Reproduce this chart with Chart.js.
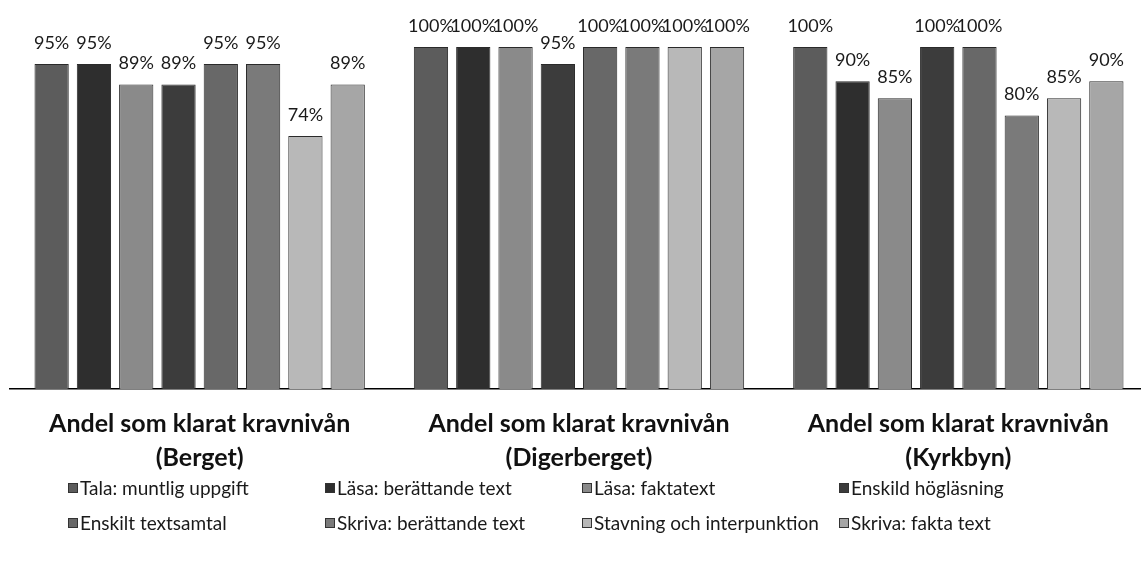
<!DOCTYPE html>
<html>
<head>
<meta charset="utf-8">
<script src="https://cdn.jsdelivr.net/npm/chart.js@4"></script>
<style>
	body { margin: 0; background: #fff; overflow: hidden; }
	#wrap { position: relative; width: 1141px; height: 563px; overflow: hidden; font-family: Lato, sans-serif; }
	#chart { position: absolute; left: 0; top: 0; }
	#legend {
		position: absolute; left: 68px; top: 476px;
		display: grid; grid-template-columns: repeat(4, 257px); row-gap: 12px;
		font-size: 19px; color: #1a1a1a;
	}
	#legend .item { display: flex; align-items: center; height: 23px; white-space: nowrap; }
	#legend .box { width: 10px; height: 10px; margin-right: 2px; border: 1px solid #333; box-sizing: border-box; }
</style>
</head>
<body>
<div id="wrap">
	<canvas id="chart" width="1148" height="499"></canvas>
	<div id="legend"></div>
</div>
<script>
// Categories (two-line axis labels)
const schools = [
	[ 'Andel som klarat kravnivån', '(Berget)' ],
	[ 'Andel som klarat kravnivån', '(Digerberget)' ],
	[ 'Andel som klarat kravnivån', '(Kyrkbyn)' ],
];

const seriesNames = [
	'Tala: muntlig uppgift',
	'Läsa: berättande text',
	'Läsa: faktatext',
	'Enskild högläsning',
	'Enskilt textsamtal',
	'Skriva: berättande text',
	'Stavning och interpunktion',
	'Skriva: fakta text',
];

// percent per series, in school order
const tala = [ 95, 100, 100 ];
const lasaBerattande = [ 95, 100, 90 ];
const lasaFakta = [ 89, 100, 85 ];
const hoglasning = [ 89, 95, 100 ];
const textsamtal = [ 95, 100, 100 ];
const skrivaBerattande = [ 95, 100, 80 ];
const stavning = [ 74, 100, 85 ];
const skrivaFakta = [ 89, 100, 90 ];

const seriesValues = [
	tala, lasaBerattande, lasaFakta, hoglasning,
	textsamtal, skrivaBerattande, stavning, skrivaFakta,
];

const grays = [ '#5c5c5c', '#2e2e2e', '#8a8a8a', '#3c3c3c', '#686868', '#7a7a7a', '#b8b8b8', '#a6a6a6' ];

// draws "95%" above every bar, using the bar elements' positions
const valueLabels = {
	id: 'valueLabels',
	afterDatasetsDraw( chart ) {
		const ctx = chart.ctx;
		ctx.save();
		ctx.font = '18px Lato, sans-serif';
		ctx.fillStyle = '#1a1a1a';
		ctx.textAlign = 'center';
		ctx.textBaseline = 'middle';
		chart.data.datasets.forEach( ( ds, i ) => {
			chart.getDatasetMeta( i ).data.forEach( ( bar, j ) => {
				ctx.fillText( ds.data[ j ] + '%', bar.x, bar.y - 21 );
			} );
		} );
		ctx.restore();
	},
};

const chart = new Chart( document.getElementById( 'chart' ), {
	type: 'bar',
	data: {
		labels: schools,
		datasets: seriesNames.map( ( name, i ) => ( {
			label: name,
			data: seriesValues[ i ],
			backgroundColor: grays[ i ],
			borderColor: '#2a2a2a',
			borderWidth: 1,
			barPercentage: 0.81,
			categoryPercentage: 0.892,
		} ) ),
	},
	options: {
		responsive: false,
		animation: false,
		layout: { padding: { top: 47, left: 10, right: 0, bottom: 6 } },
		plugins: {
			legend: { display: false },
			tooltip: { enabled: false },
		},
		scales: {
			x: {
				grid: { display: false, drawTicks: false },
				border: { display: true, color: '#000', width: 1.5 },
				ticks: {
					color: '#111',
					padding: 18,
					font: { family: 'Lato, sans-serif', size: 25, weight: 'bold', lineHeight: 1.36 },
				},
			},
			y: {
				min: 0,
				max: 100,
				display: false,
			},
		},
	},
	plugins: [ valueLabels ],
} );

// legend in a 4-column grid, built from the datasets
const legend = document.getElementById( 'legend' );
chart.data.datasets.forEach( ( ds ) => {
	const item = document.createElement( 'div' );
	item.className = 'item';
	const box = document.createElement( 'span' );
	box.className = 'box';
	box.style.background = ds.backgroundColor;
	item.appendChild( box );
	item.appendChild( document.createTextNode( ds.label ) );
	legend.appendChild( item );
} );
</script>
</body>
</html>
